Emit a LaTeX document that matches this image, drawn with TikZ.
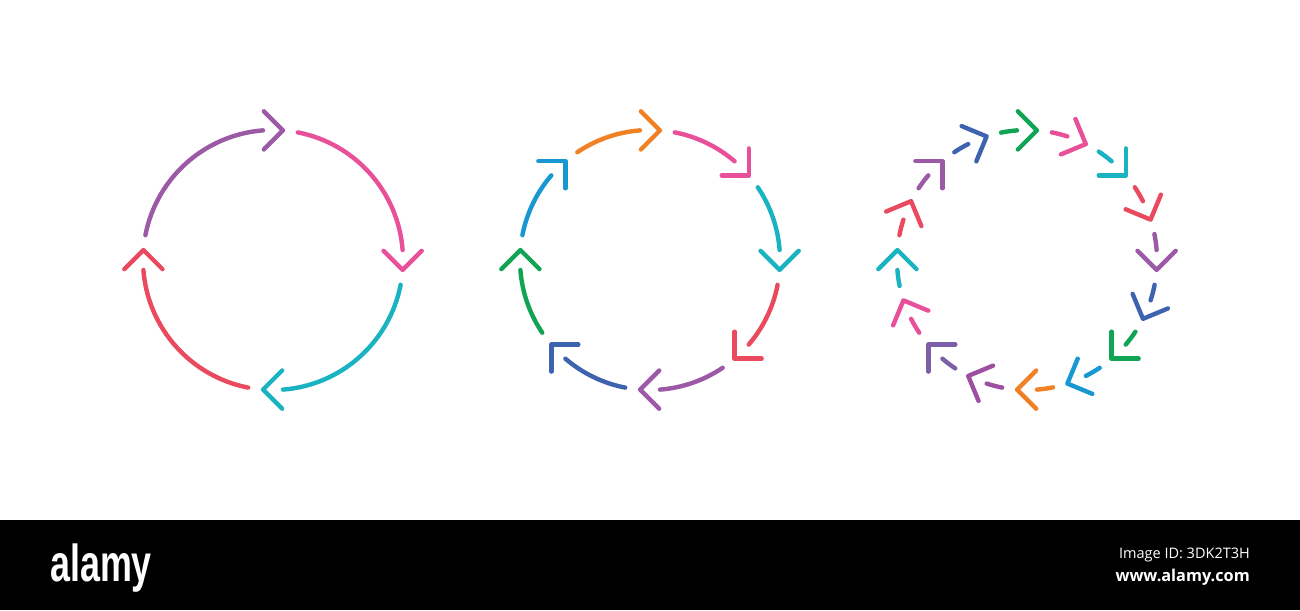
\documentclass[tikz,border=0pt]{standalone}
\usepackage{fontspec}
\setmainfont{Open Sans}
\newfontfamily\logofont{Liberation Sans}
\usetikzlibrary{calc}
\definecolor{cpurple}{HTML}{9B59A6}
\definecolor{cpink}{HTML}{E9509A}
\definecolor{cteal}{HTML}{19B3C1}
\definecolor{cred}{HTML}{E94A5D}
\definecolor{corange}{HTML}{F08125}
\definecolor{cdblue}{HTML}{3E63AE}
\definecolor{cgreen}{HTML}{12A455}
\definecolor{clblue}{HTML}{1798D2}
\definecolor{cviolet}{HTML}{7C5FA8}
\definecolor{cmagenta}{HTML}{9D4FA0}

\tikzset{
  cycline/.style={line width=4.4pt, line cap=round, line join=round},
}

\begin{document}
\begin{tikzpicture}[x=1pt, y=1pt]
  \useasboundingbox (0,0) rectangle (1300,610);
  \fill[white] (0,90) rectangle (1300,610);

  % ring centres
  \coordinate (ringA) at (273,350);
  \coordinate (ringB) at (650,350);
  \coordinate (ringC) at (1027,350);

  % four arrows
  \foreach \c/\col in {90/cpurple, 0/cpink, -90/cteal, 180/cred} {
    \coordinate (tipA) at ($(ringA)+(\c-4.4:130)$);
    \draw[cycline, \col] ($(ringA)+(\c+79:130)$)
      arc[start angle=\c+79, end angle=\c+4.4, radius=130];
    \draw[cycline, \col] ($(tipA)+(\c+45:27)$) -- (tipA) -- ($(tipA)+(\c+135:27)$);
  }

  % eight arrows
  \foreach \c/\col in {90/corange, 45/cpink, 0/cteal, -45/cred,
                       -90/cpurple, -135/cdblue, 180/cgreen, 135/clblue} {
    \coordinate (tipB) at ($(ringB)+(\c-4.4:130)$);
    \draw[cycline, \col] ($(ringB)+(\c+34:130)$)
      arc[start angle=\c+34, end angle=\c+4.4, radius=130];
    \draw[cycline, \col] ($(tipB)+(\c+45:27)$) -- (tipB) -- ($(tipB)+(\c+135:27)$);
  }

  % sixteen arrows
  \foreach \c/\col in {90/cgreen, 67.5/cpink, 45/cteal, 22.5/cred,
                       0/cpurple, -22.5/cdblue, -45/cgreen, -67.5/clblue,
                       -90/corange, -112.5/cmagenta, -135/cviolet, -157.5/cpink,
                       180/cteal, 157.5/cred, 135/cpurple, 112.5/cdblue} {
    \coordinate (tipC) at ($(ringC)+(\c-4.4:130)$);
    \draw[cycline, \col] ($(ringC)+(\c+11.5:130)$)
      arc[start angle=\c+11.5, end angle=\c+4.4, radius=130];
    \draw[cycline, \col] ($(tipC)+(\c+45:27)$) -- (tipC) -- ($(tipC)+(\c+135:27)$);
  }

  % footer band
  \fill[black] (0,0) rectangle (1300,90);
  \node[anchor=base west, inner sep=0, xscale=0.69, text=white] (logo) at (50,28)
    {\logofont\bfseries\fontsize{52}{52}\selectfont alamy};
  \node[anchor=base east, inner sep=0, text=white] (imgid) at (1250,52)
    {\fontsize{14.5}{14.5}\selectfont Image ID: 3DK2T3H};
  \node[anchor=base east, inner sep=0, text=white] (site) at (1250,28)
    {\fontsize{16.3}{16.3}\selectfont\bfseries www.alamy.com};
\end{tikzpicture}
\end{document}
